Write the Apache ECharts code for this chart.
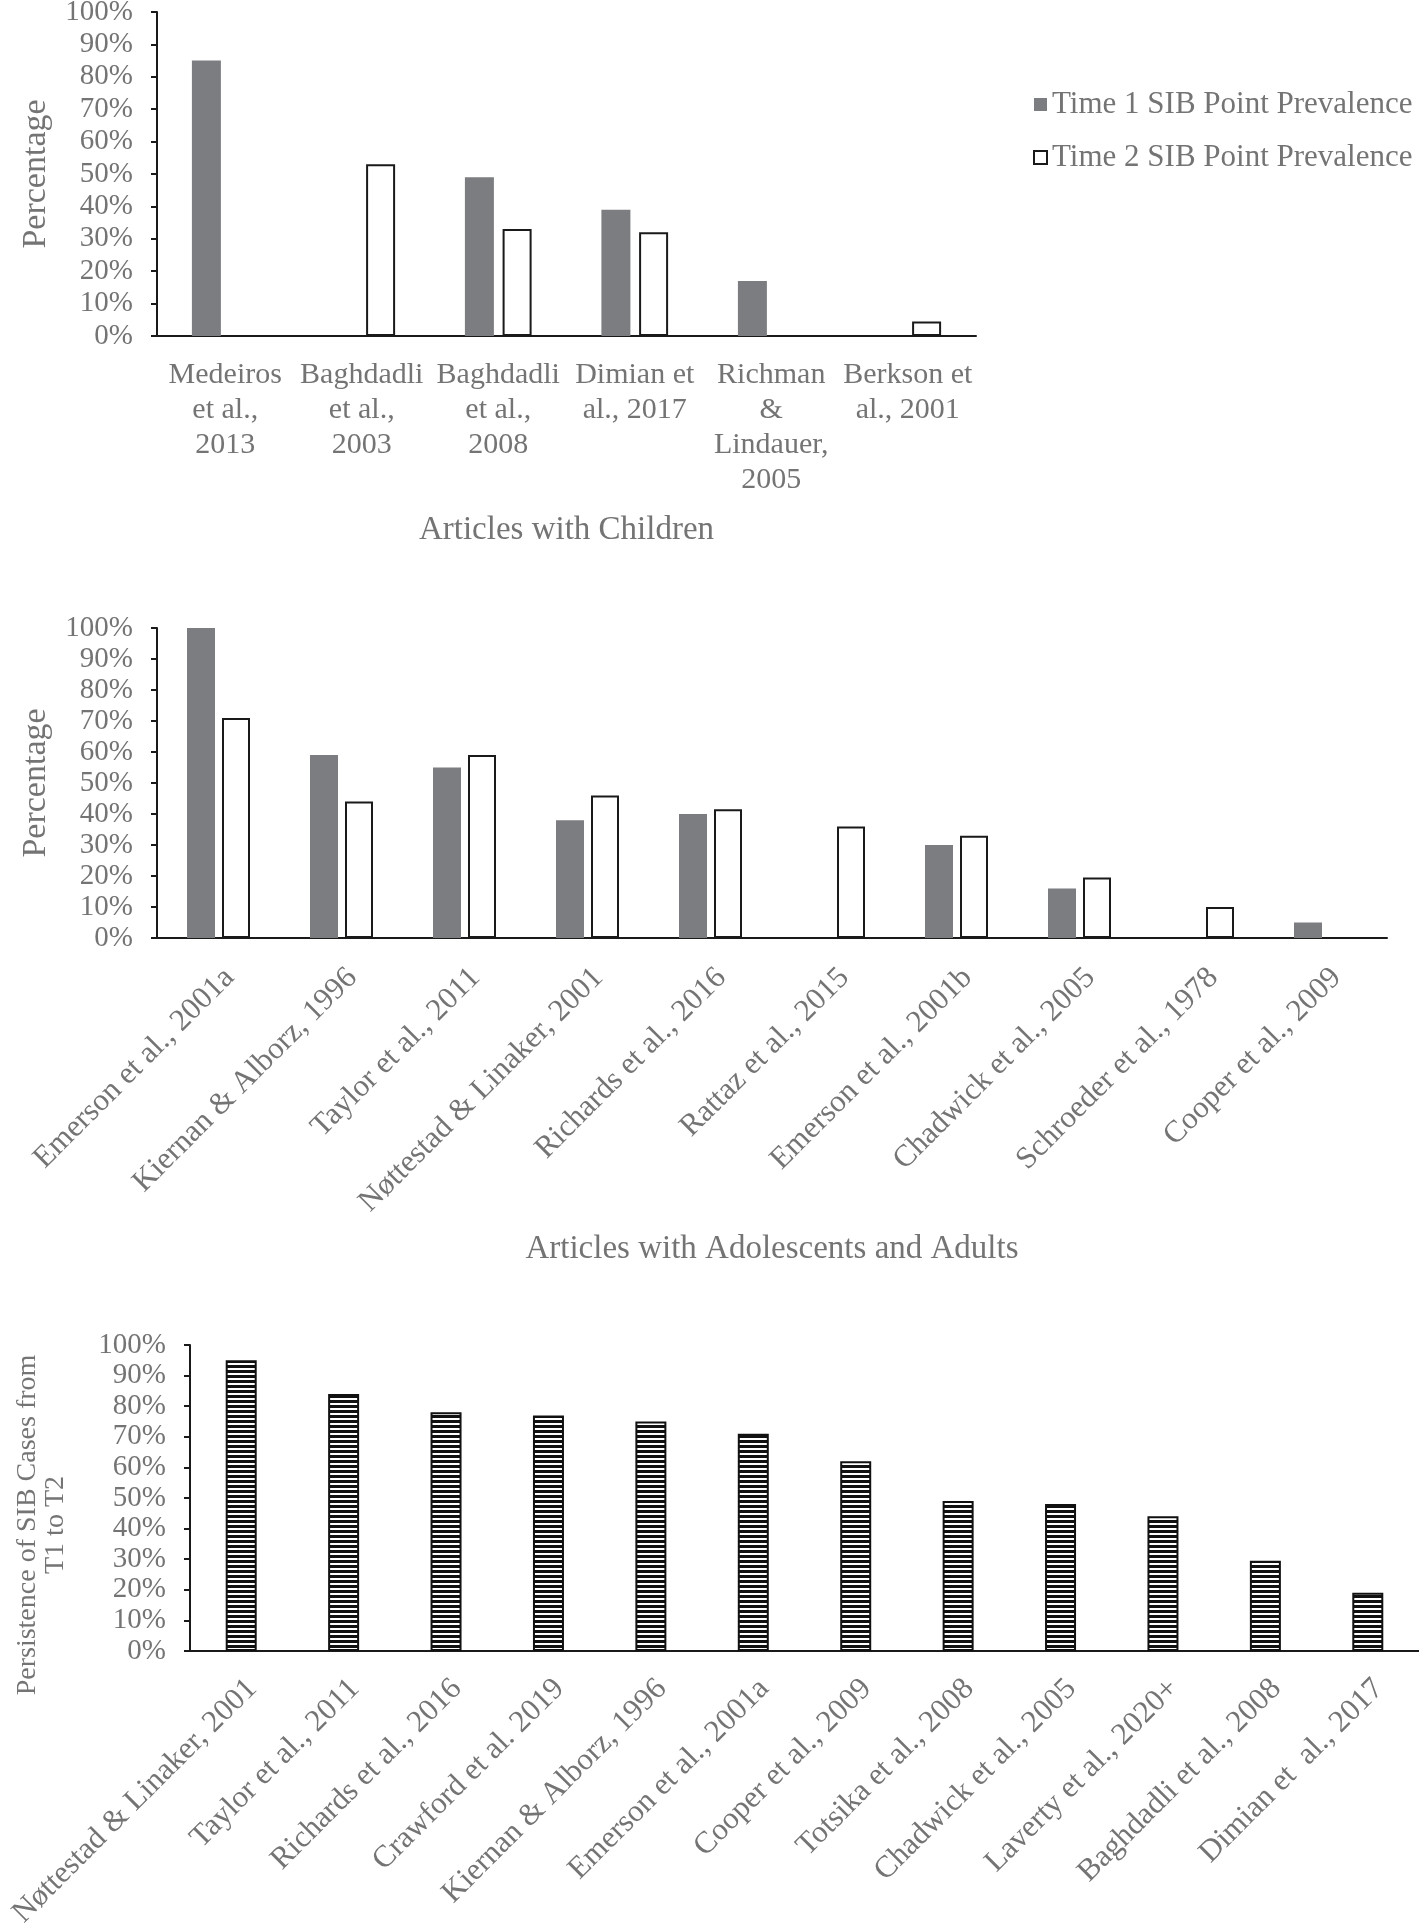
<!DOCTYPE html>
<html>
<head>
<meta charset="utf-8">
<script src="https://cdn.jsdelivr.net/npm/echarts@6/dist/echarts.min.js"></script>
<style>
    html, body { margin: 0; padding: 0; background: #fff; }
    #chart { width: 1419px; height: 1924px; }
</style>
</head>
<body>
<div id="chart"></div>
<script>
// chart 1: articles with children
const childCats = ['Medeiros\net al.,\n2013', 'Baghdadli\net al.,\n2003', 'Baghdadli\net al.,\n2008',
    'Dimian et\nal., 2017', 'Richman\n&\nLindauer,\n2005', 'Berkson et\nal., 2001'];
const childT1 = [85, null, 49, 39, 17, null];
const childT2 = [null, 53, 33, 32, null, 4.5];

// chart 2: adolescents and adults
const adultCats = ['Emerson et al., 2001a', 'Kiernan & Alborz, 1996', 'Taylor et al., 2011',
    'Nøttestad & Linaker, 2001', 'Richards et al., 2016', 'Rattaz et al., 2015',
    'Emerson et al., 2001b', 'Chadwick et al., 2005', 'Schroeder et al., 1978', 'Cooper et al., 2009'];
const adultT1 = [100, 59, 55, 38, 40, null, 30, 16, null, 5];
const adultT2 = [71, 44, 59, 46, 41.5, 36, 33, 19.5, 10, null];

// chart 3: persistence
const persistCats = ['Nøttestad & Linaker, 2001', 'Taylor et al., 2011', 'Richards et al., 2016',
    'Crawford et al. 2019', 'Kiernan & Alborz, 1996', 'Emerson et al., 2001a', 'Cooper et al., 2009',
    'Totsika et al., 2008', 'Chadwick et al., 2005', 'Laverty et al., 2020+', 'Baghdadli et al., 2008',
    'Dimian et  al., 2017'];
const persistVals = [95, 84, 78, 77, 75, 71, 62, 49, 48, 44, 29.5, 19];

const pctTicks = [0, 100, 10];

const FONT = 'Liberation Serif';
const TEXT = '#747474';
const LINE = '#1a1a1a';
const GRAY = '#7c7d80';

// horizontal stripe fill
const stripe = document.createElement('canvas');
stripe.width = 4;
stripe.height = 5;
const sctx = stripe.getContext('2d');
sctx.fillStyle = '#fff';
sctx.fillRect(0, 0, 4, 5);
sctx.fillStyle = '#111';
sctx.fillRect(0, 0, 4, 3);

function valueAxis(gridIndex, name, nameGap, extra) {
    return {
        type: 'value',
        gridIndex,
        min: pctTicks[0],
        max: pctTicks[1],
        interval: pctTicks[2],
        name,
        nameLocation: 'middle',
        nameRotate: 90,
        nameGap,
        nameTextStyle: Object.assign({ fontFamily: FONT, fontSize: 34, color: TEXT, lineHeight: 34 }, extra || {}),
        axisLine: { show: true, lineStyle: { color: LINE, width: 2 } },
        axisTick: { show: true, length: 6, lineStyle: { color: LINE, width: 2 } },
        axisLabel: { fontFamily: FONT, fontSize: 29, color: TEXT, margin: 24, formatter: '{value}%' },
        splitLine: { show: false },
    };
}

function catAxis(gridIndex, data, name, nameGap, labelOpt) {
    return {
        type: 'category',
        gridIndex,
        data,
        name,
        nameLocation: 'middle',
        nameGap,
        nameTextStyle: { fontFamily: FONT, fontSize: 33, color: TEXT, verticalAlign: 'top' },
        axisLine: { show: true, lineStyle: { color: LINE, width: 2 } },
        axisTick: { show: false },
        axisLabel: Object.assign({ fontFamily: FONT, color: TEXT, interval: 0 }, labelOpt),
    };
}

const option = {
    animation: false,
    backgroundColor: '#fff',
    legend: {
        orient: 'vertical',
        left: 1028,
        top: 84,
        icon: 'rect',
        itemWidth: 13,
        itemHeight: 13,
        itemGap: 22,
        textStyle: { fontFamily: FONT, fontSize: 31, color: TEXT },
        data: ['Time 1 SIB Point Prevalence', 'Time 2 SIB Point Prevalence'],
    },
    grid: [
        { left: 157, top: 12, width: 819, height: 324, outerBoundsMode: 'none' },
        { left: 157, top: 628, width: 1230, height: 310, outerBoundsMode: 'none' },
        { left: 190, top: 1345, width: 1229, height: 306, outerBoundsMode: 'none' },
    ],
    xAxis: [
        catAxis(0, childCats, 'Articles with Children', 178,
            { fontSize: 30, lineHeight: 35, margin: 22, align: 'center' }),
        catAxis(1, adultCats, 'Articles with Adolescents and Adults', 295,
            { fontSize: 31, rotate: 45, margin: 24, verticalAlign: 'top' }),
        catAxis(2, persistCats, '', 0,
            { fontSize: 31, rotate: 45, margin: 22, verticalAlign: 'top' }),
    ],
    yAxis: [
        valueAxis(0, 'Percentage', 104),
        valueAxis(1, 'Percentage', 104),
        valueAxis(2, 'Persistence of SIB Cases from\nT1 to T2', 120,
            { fontSize: 28, lineHeight: 28, padding: [0, 54, 0, 0] }),
    ],
    series: [
        {
            name: 'Time 1 SIB Point Prevalence', type: 'bar', xAxisIndex: 0, yAxisIndex: 0,
            data: childT1, barWidth: 29, barGap: '30%',
            itemStyle: { color: GRAY },
        },
        {
            name: 'Time 2 SIB Point Prevalence', type: 'bar', xAxisIndex: 0, yAxisIndex: 0,
            data: childT2, barWidth: 29, barGap: '30%',
            itemStyle: { color: '#fff', borderColor: LINE, borderWidth: 2 },
        },
        {
            name: 'Time 1 SIB Point Prevalence', type: 'bar', xAxisIndex: 1, yAxisIndex: 1,
            data: adultT1, barWidth: 28, barGap: '25%',
            itemStyle: { color: GRAY },
        },
        {
            name: 'Time 2 SIB Point Prevalence', type: 'bar', xAxisIndex: 1, yAxisIndex: 1,
            data: adultT2, barWidth: 28, barGap: '25%',
            itemStyle: { color: '#fff', borderColor: LINE, borderWidth: 2 },
        },
        {
            name: 'Persistence', type: 'bar', xAxisIndex: 2, yAxisIndex: 2,
            data: persistVals, barWidth: 31,
            itemStyle: { color: { image: stripe, repeat: 'repeat' }, borderColor: '#111', borderWidth: 2 },
        },
    ],
};

const chart = echarts.init(document.getElementById('chart'), null, { renderer: 'canvas' });
chart.setOption(option);
</script>
</body>
</html>
